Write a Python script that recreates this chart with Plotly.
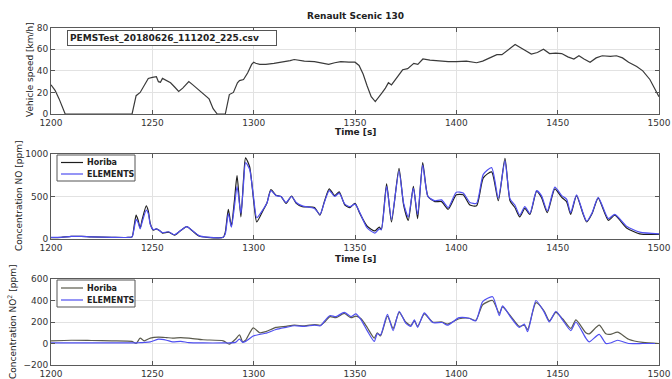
import plotly.graph_objects as go

# ---------------- data ----------------
speed_t = [1200, 1202, 1204, 1206, 1207, 1240, 1241, 1242, 1244, 1246, 1248, 1250, 1252, 1253, 1254,
           1255, 1257, 1259, 1261, 1263, 1265, 1268, 1270, 1273, 1276, 1278, 1280, 1282, 1286, 1287,
           1288, 1290, 1292, 1293, 1295, 1297, 1299, 1300, 1301, 1303, 1306, 1310, 1314, 1318, 1320,
           1322, 1325, 1330, 1334, 1337, 1340, 1343, 1347, 1350, 1352, 1354, 1356, 1358, 1360, 1362,
           1363.5, 1365, 1366.5, 1368, 1370.5, 1373.5, 1376, 1379, 1381, 1383.5, 1387, 1392, 1396, 1400, 1405,
           1410, 1413, 1416.5, 1420, 1422.5, 1426, 1429, 1433, 1437, 1440, 1443, 1446, 1449, 1452, 1455,
           1458, 1460.5, 1463, 1466, 1469, 1472, 1476, 1479, 1482, 1485, 1489, 1492, 1495.5, 1498, 1500]
speed_kmh = [27, 22, 14, 4, 0, 0, 10, 17, 20, 27, 33, 34, 34.5, 30, 29.5,
             33, 31, 29, 25, 21, 24, 30, 27, 22, 17, 14, 5, 0, 0, 10,
             18, 20, 29, 31, 32, 38, 46, 48, 47, 46, 46, 47, 48, 49.5, 50.5,
             50, 49, 48.5, 47, 46, 47.5, 48.5, 48, 48, 45, 37, 26, 16, 11.5, 17,
             20, 24, 29, 27, 33, 41, 42, 47, 46, 51, 50, 49, 48.5, 48.5, 49,
             47.5, 49, 52, 55, 55, 60, 64.5, 60, 55.5, 57, 60, 56, 56.5, 56, 53,
             51, 54, 51, 48, 52, 54, 53.5, 54, 52, 48, 44, 40, 32, 23, 16]

no_t = [1200, 1205, 1210, 1215, 1220, 1230, 1238, 1240, 1241, 1242, 1243, 1244, 1245, 1247, 1248,
        1249, 1250.5, 1252, 1253.5, 1255, 1258, 1261, 1264, 1267, 1270, 1273, 1277, 1285, 1286, 1287.5,
        1289, 1290.5, 1291.8, 1293.7, 1295, 1296, 1298, 1300, 1301.5, 1304.7, 1306.5, 1308.5, 1311, 1313.5, 1316,
        1318.7, 1321, 1324, 1330, 1332.7, 1335, 1337.3, 1340, 1342.2, 1345, 1347.5, 1350, 1352.4, 1356, 1359.8,
        1362, 1363, 1365.6, 1368, 1371.7, 1374, 1376.3, 1378.8, 1380.9, 1383.4, 1386, 1389.4, 1392.7, 1396, 1400,
        1403.4, 1406.7, 1410, 1413.3, 1417.4, 1420.7, 1424, 1426.5, 1428.9, 1431.3, 1433.8, 1436.3, 1439.6, 1442, 1444.9,
        1448.6, 1452, 1454.4, 1456.4, 1459.3, 1462.6, 1464.3, 1467, 1470, 1475, 1478.2, 1484, 1490.5, 1500]
no_horiba = [15, 20, 30, 30, 25, 20, 18, 25, 150, 280, 220, 130, 230, 390, 330,
             180, 105, 120, 100, 70, 80, 45, 100, 145, 90, 35, 20, 20, 80, 350,
             150, 450, 745, 260, 700, 955, 850, 450, 200, 340, 420, 580, 515, 500, 420,
             505, 420, 380, 370, 280, 450, 590, 510, 555, 400, 370, 420, 300, 150, 95,
             140, 110, 650, 200, 830, 400, 220, 620, 240, 900, 500, 440, 440, 350, 520,
             520, 400, 390, 720, 790, 450, 950, 450, 370, 260, 360, 290, 560, 490, 310,
             590, 490, 440, 290, 510, 290, 200, 300, 480, 220, 280, 130, 60, 55]
no_elements = [20, 20, 30, 30, 25, 20, 18, 25, 120, 230, 190, 120, 200, 340, 300,
               170, 110, 120, 100, 75, 85, 50, 100, 145, 95, 40, 22, 20, 60, 300,
               140, 380, 620, 300, 650, 900, 820, 480, 250, 350, 420, 570, 510, 500, 430,
               500, 430, 390, 360, 290, 440, 570, 500, 540, 410, 380, 410, 310, 130, 70,
               120, 110, 620, 230, 800, 420, 260, 600, 290, 870, 500, 450, 460, 370, 550,
               540, 430, 420, 760, 840, 480, 920, 470, 400, 280, 380, 300, 570, 510, 330,
               610, 510, 470, 310, 520, 300, 210, 310, 490, 240, 290, 150, 80, 60]

no2_t = [1200, 1210, 1220, 1230, 1240,
         1242, 1244, 1246, 1249, 1253,
         1257, 1260, 1264, 1268, 1275,
         1285, 1288, 1291, 1293, 1294.6,
         1296, 1299.8, 1303, 1306, 1311,
         1316, 1320, 1325, 1330, 1333,
         1335, 1337.7, 1340.6, 1344.7, 1348,
         1350.5, 1353, 1356, 1359.5, 1361,
         1362.6, 1366, 1368.8, 1371.8, 1375,
         1377.6, 1379.3, 1380.9, 1384.2, 1388.3,
         1393, 1395.6, 1401.4, 1406.3, 1409.6,
         1413, 1417.9, 1421.2, 1422.8, 1427,
         1431, 1433.5, 1435.2, 1439.3, 1443.4,
         1445.9, 1449.1, 1452.4, 1456.5, 1459,
         1463.9, 1465.6, 1470.5, 1473.8, 1476,
         1479.6, 1485, 1492, 1500]
no2_horiba = [25, 30, 28, 25, 20,
              0, 50, 25, 50, 60,
              55, 50, 55, 50, 35,
              25, -5, 40, 80, 15,
              30, 145, 100, 110, 150,
              160, 170, 165, 175, 170,
              200, 250, 240, 280, 240,
              255, 230, 150, 50, 100,
              70, 255, 140, 290, 200,
              170, 210, 160, 275, 200,
              200, 180, 230, 235, 215,
              360, 400, 280, 340, 250,
              160, 170, 130, 380, 300,
              210, 290, 230, 140, 220,
              100, 90, 170, 90, 85,
              105, 40, 10, 0]
no2_elements = [5, 5, 5, 5, 5,
                5, 8, 10, 15, 40,
                30, 15, 20, 8, 5,
                5, 5, 10, 40, 10,
                20, 70, 85, 95, 130,
                150, 165, 160, 170, 165,
                210, 260, 250, 290, 250,
                275, 220, 120, 20, 90,
                80, 270, 120, 300, 190,
                160, 220, 150, 285, 195,
                195, 170, 240, 235, 210,
                390, 435, 260, 350, 240,
                150, 180, 110, 400, 290,
                200, 300, 220, 120, 200,
                50, 15, 85, 0, 5,
                30, 0, 0, 0]

x_ticks = [1200, 1250, 1300, 1350, 1400, 1450, 1500]
series_names = ["Horiba", "ELEMENTS"]

# ---------------- figure ----------------
W, H = 672, 379
FONT = "DejaVu Sans"
BLUE = "#4f4ff0"
NO_HORIBA_C = "#1e1e1e"
NO2_HORIBA_C = "#5a5a4c"

fig = go.Figure()
fig.add_trace(go.Scatter(x=speed_t, y=speed_kmh, mode="lines", showlegend=False,
                         line=dict(color="#3a3a3a", width=1.2), xaxis="x", yaxis="y"))
fig.add_trace(go.Scatter(x=no_t, y=no_horiba, mode="lines", name=series_names[0], showlegend=False,
                         line=dict(color=NO_HORIBA_C, width=1.2, shape="spline", smoothing=0.6),
                         xaxis="x2", yaxis="y2"))
fig.add_trace(go.Scatter(x=no_t, y=no_elements, mode="lines", name=series_names[1], showlegend=False,
                         line=dict(color=BLUE, width=1.2, shape="spline", smoothing=0.6),
                         xaxis="x2", yaxis="y2"))
fig.add_trace(go.Scatter(x=no2_t, y=no2_horiba, mode="lines", name=series_names[0], showlegend=False,
                         line=dict(color=NO2_HORIBA_C, width=1.2, shape="spline", smoothing=0.6),
                         xaxis="x3", yaxis="y3"))
fig.add_trace(go.Scatter(x=no2_t, y=no2_elements, mode="lines", name=series_names[1], showlegend=False,
                         line=dict(color=BLUE, width=1.2, shape="spline", smoothing=0.6),
                         xaxis="x3", yaxis="y3"))

xdom = [51 / W, 659 / W]


def ydom(top_px, bot_px):
    return [1 - bot_px / H, 1 - top_px / H]


axis_common = dict(showgrid=True, gridcolor="#e2e2e2", gridwidth=1, ticks="inside", ticklen=4,
                   tickcolor="#555", showline=True, linecolor="#5a5a5a", linewidth=1,
                   mirror="ticks", zeroline=False, automargin=False,
                   tickfont=dict(family=FONT, size=9, color="#333"))

for i, anchor in enumerate(["y", "y2", "y3"]):
    key = "xaxis" if i == 0 else f"xaxis{i + 1}"
    fig.layout[key] = dict(domain=xdom, anchor=anchor, range=[1200, 1500], tickvals=x_ticks,
                           **axis_common)

fig.layout["yaxis"] = dict(domain=ydom(27.7, 114), anchor="x", range=[0, 80],
                           tickvals=[0, 20, 40, 60, 80], **axis_common)
fig.layout["yaxis2"] = dict(domain=ydom(154, 239), anchor="x2", range=[0, 1000],
                            tickvals=[0, 500, 1000], **axis_common)
fig.layout["yaxis3"] = dict(domain=ydom(279, 365), anchor="x3", range=[-200, 600],
                            tickvals=[-200, 0, 200, 400, 600], **axis_common)

ann = []
shapes = []


def px_x(x):
    return x / W


def px_y(y):
    return 1 - y / H


def add_text(text, xpx, ypx, size=9, angle=0, bold=False, xanchor="center", color="#222"):
    t = f"<b>{text}</b>" if bold else text
    ann.append(dict(text=t, x=px_x(xpx), y=px_y(ypx), xref="paper", yref="paper",
                    showarrow=False, textangle=angle, xanchor=xanchor, yanchor="middle",
                    font=dict(family=FONT, size=size, color=color)))


add_text("Renault Scenic 130", 355, 16, size=9, bold=True)
add_text("Time [s]", 355, 132, size=9, bold=True)
add_text("Time [s]", 355, 259, size=9, bold=True)
add_text("Vehicle speed [km/h]", 30, 70, size=9, angle=-90)
add_text("Concentration NO [ppm]", 19, 196, size=9, angle=-90)
add_text("Concentration NO<sup>2</sup> [ppm]", 12, 322, size=9, angle=-90)

# file-name box (legend of the speed panel)
ann.append(dict(text="<b>PEMSTest_20180626_111202_225.csv</b>", x=px_x(67), y=px_y(30),
                xref="paper", yref="paper", xanchor="left", yanchor="top", showarrow=False,
                width=204, align="left",
                font=dict(family=FONT, size=9, color="#222"), bordercolor="#555", borderwidth=1,
                borderpad=2, bgcolor="white"))


# compact legends (drawn like the MATLAB legend boxes)
def add_legend(top, bottom, rows, colors):
    shapes.append(dict(type="rect", xref="paper", yref="paper", x0=px_x(57), x1=px_x(135),
                       y0=px_y(bottom), y1=px_y(top), line=dict(color="#555", width=1),
                       fillcolor="white", layer="above"))
    for name, row_y, col in zip(series_names, rows, colors):
        shapes.append(dict(type="line", xref="paper", yref="paper", x0=px_x(61), x1=px_x(83),
                           y0=px_y(row_y), y1=px_y(row_y), line=dict(color=col, width=1.2),
                           layer="above"))
        add_text(name, 85, row_y, size=8, bold=True, xanchor="left")


add_legend(155, 181, [162.5, 174], [NO_HORIBA_C, BLUE])
add_legend(280, 307, [288, 300], [NO2_HORIBA_C, BLUE])

fig.update_layout(width=W, height=H, margin=dict(l=0, r=0, t=0, b=0),
                  paper_bgcolor="white", plot_bgcolor="white", annotations=ann, shapes=shapes,
                  template="none", showlegend=False)

fig.write_html("out.html")
